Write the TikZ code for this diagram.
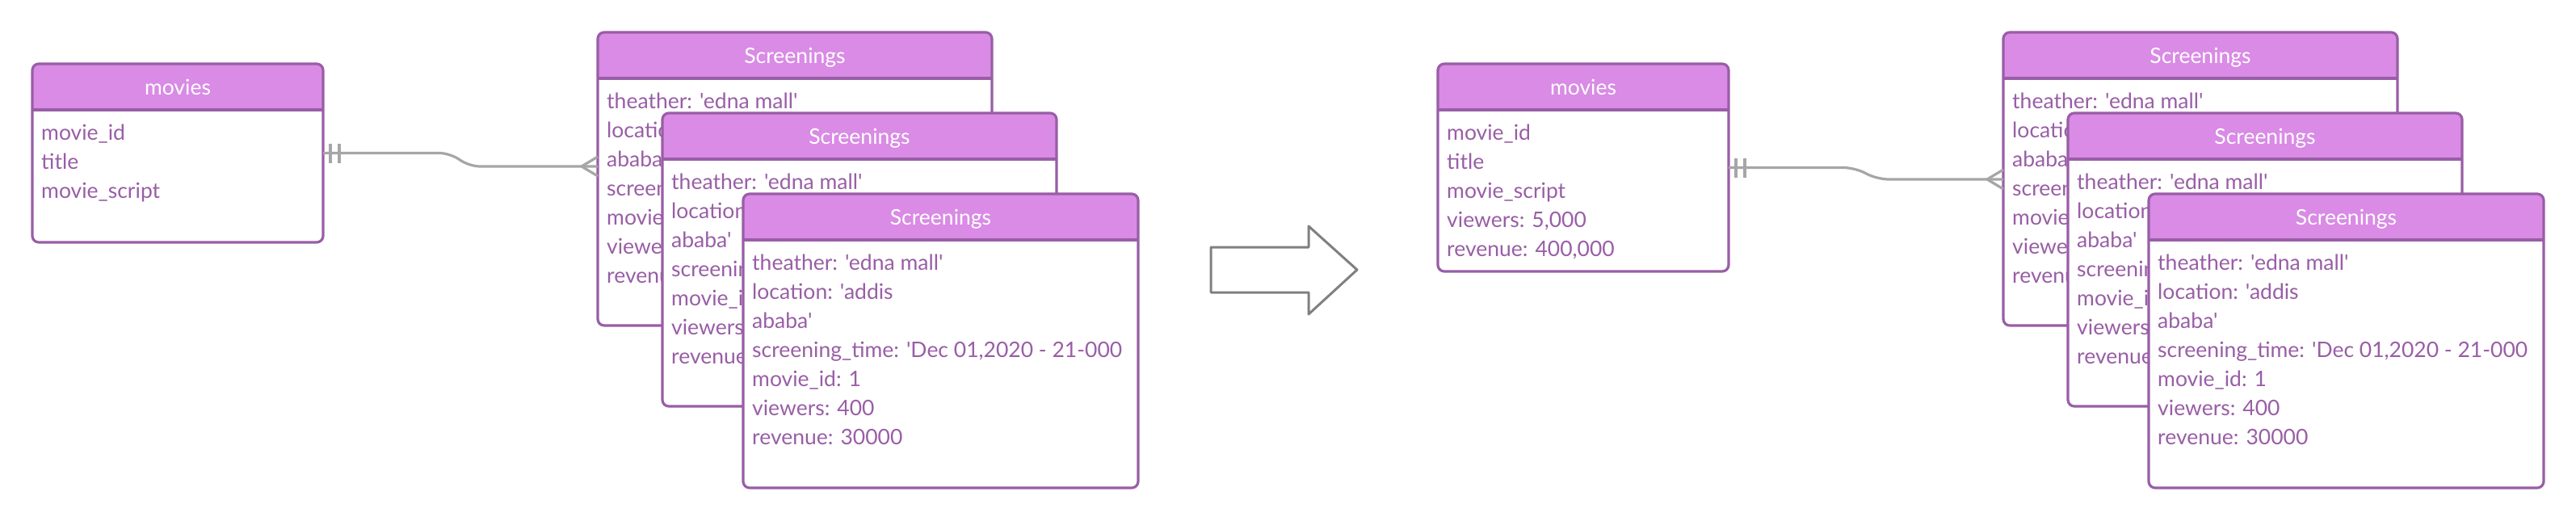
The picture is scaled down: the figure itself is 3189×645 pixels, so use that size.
\documentclass[tikz,border=0pt]{standalone}
\usepackage{fontspec}
\newfontfamily\latof{Lato}
\usetikzlibrary{calc}
\definecolor{hdrfill}{RGB}{217,139,229}
\definecolor{bord}{RGB}{153,94,166}
\definecolor{conn}{RGB}{166,166,166}
\definecolor{bigarrow}{RGB}{128,128,128}
\tikzset{
  tblbg/.style={fill=white, rounded corners=8pt, inner sep=0pt, outer sep=0pt, anchor=north west, draw=none},
  bordline/.style={draw=bord, line width=3.2pt},
  hdrtext/.style={font=\latof\fontsize{26.5}{30}\selectfont, text=white, inner sep=0pt},
  bodytext/.style={font=\latof\fontsize{26.5}{30}\selectfont, text=bord, inner sep=0pt},
  connline/.style={draw=conn, line width=3.2pt},
  arrowshape/.style={draw=bigarrow, line width=3pt, fill=white, line join=round}
}
\newcommand\ertable[7]{%
  \node[tblbg, minimum width=#4pt, minimum height=#5pt] (#1) at (#2,#3) {};
  \fill[hdrfill, rounded corners=8pt] (#1.north west) rectangle ($(#1.north east)+(0,57)$);
  \fill[hdrfill] ($(#1.north west)+(0,28)$) rectangle ($(#1.north east)+(0,57)$);
  \draw[bordline] ($(#1.north west)+(0,57)$) -- ($(#1.north east)+(0,57)$);
  \draw[bordline, rounded corners=8pt] (#1.north west) rectangle (#1.south east);
  \node[hdrtext, anchor=base] (#1-t) at ($(#1.north)+(0,38)$) {#6};
  \foreach \t [count=\i] in {#7} {
    \node[bodytext, anchor=base west] (#1-\i) at ($(#1.north west)+(11,{94+36*(\i-1)})$) {\t};
  }
}
\begin{document}
\begin{tikzpicture}[x=1pt, y=-1pt]
\useasboundingbox (0,0) rectangle (3189,645);
% left side
\ertable{mL}{40}{79}{360}{221}{movies}{movie\_id, title, movie\_script}
\ertable{sL1}{740}{40}{488}{363}{Screenings}{{theather: 'edna mall'}, {location: 'addis}, {ababa'}, {screening\_time: 'Dec 01,2020 - 21-000}, {movie\_id: 1}, {viewers: 400}, {revenue: 30000}}
\ertable{sL2}{820}{140}{488}{363}{Screenings}{{theather: 'edna mall'}, {location: 'addis}, {ababa'}, {screening\_time: 'Dec 01,2020 - 21-000}, {movie\_id: 1}, {viewers: 400}, {revenue: 30000}}
\ertable{sL3}{920}{240}{489}{364}{Screenings}{{theather: 'edna mall'}, {location: 'addis}, {ababa'}, {screening\_time: 'Dec 01,2020 - 21-000}, {movie\_id: 1}, {viewers: 400}, {revenue: 30000}}
% right side
\ertable{mR}{1780}{79}{360}{257}{movies}{movie\_id, title, movie\_script, {viewers: 5,000}, {revenue: 400,000}}
\ertable{sR1}{2480}{40}{488}{363}{Screenings}{{theather: 'edna mall'}, {location: 'addis}, {ababa'}, {screening\_time: 'Dec 01,2020 - 21-000}, {movie\_id: 1}, {viewers: 400}, {revenue: 30000}}
\ertable{sR2}{2560}{140}{488}{363}{Screenings}{{theather: 'edna mall'}, {location: 'addis}, {ababa'}, {screening\_time: 'Dec 01,2020 - 21-000}, {movie\_id: 1}, {viewers: 400}, {revenue: 30000}}
\ertable{sR3}{2660}{240}{489}{364}{Screenings}{{theather: 'edna mall'}, {location: 'addis}, {ababa'}, {screening\_time: 'Dec 01,2020 - 21-000}, {movie\_id: 1}, {viewers: 400}, {revenue: 30000}}
% connector left
\coordinate (crowL) at (740,206);
\draw[connline, rounded corners=14pt] (mL.east) -- ++(158,0) -- ($(sL1.west |- crowL)+(-160,0)$) -- (sL1.west |- crowL);
\draw[connline] ($(mL.east)+(9,-12)$) -- ++(0,24);
\draw[connline] ($(mL.east)+(20,-12)$) -- ++(0,24);
\draw[connline] ($(sL1.west |- crowL)+(0,-12)$) -- ($(sL1.west |- crowL)+(-20,0)$) -- ($(sL1.west |- crowL)+(0,12)$);
% connector right
\coordinate (crowR) at (2480,222);
\draw[connline, rounded corners=14pt] (mR.east) -- ++(156,0) -- ($(sR1.west |- crowR)+(-156,0)$) -- (sR1.west |- crowR);
\draw[connline] ($(mR.east)+(9,-12)$) -- ++(0,24);
\draw[connline] ($(mR.east)+(20,-12)$) -- ++(0,24);
\draw[connline] ($(sR1.west |- crowR)+(0,-12)$) -- ($(sR1.west |- crowR)+(-20,0)$) -- ($(sR1.west |- crowR)+(0,12)$);
% big arrow
\draw[arrowshape] (1499,306) -- (1620,306) -- (1620,280) -- (1680,334) -- (1620,389) -- (1620,362) -- (1499,362) -- cycle;
\end{tikzpicture}
\end{document}
